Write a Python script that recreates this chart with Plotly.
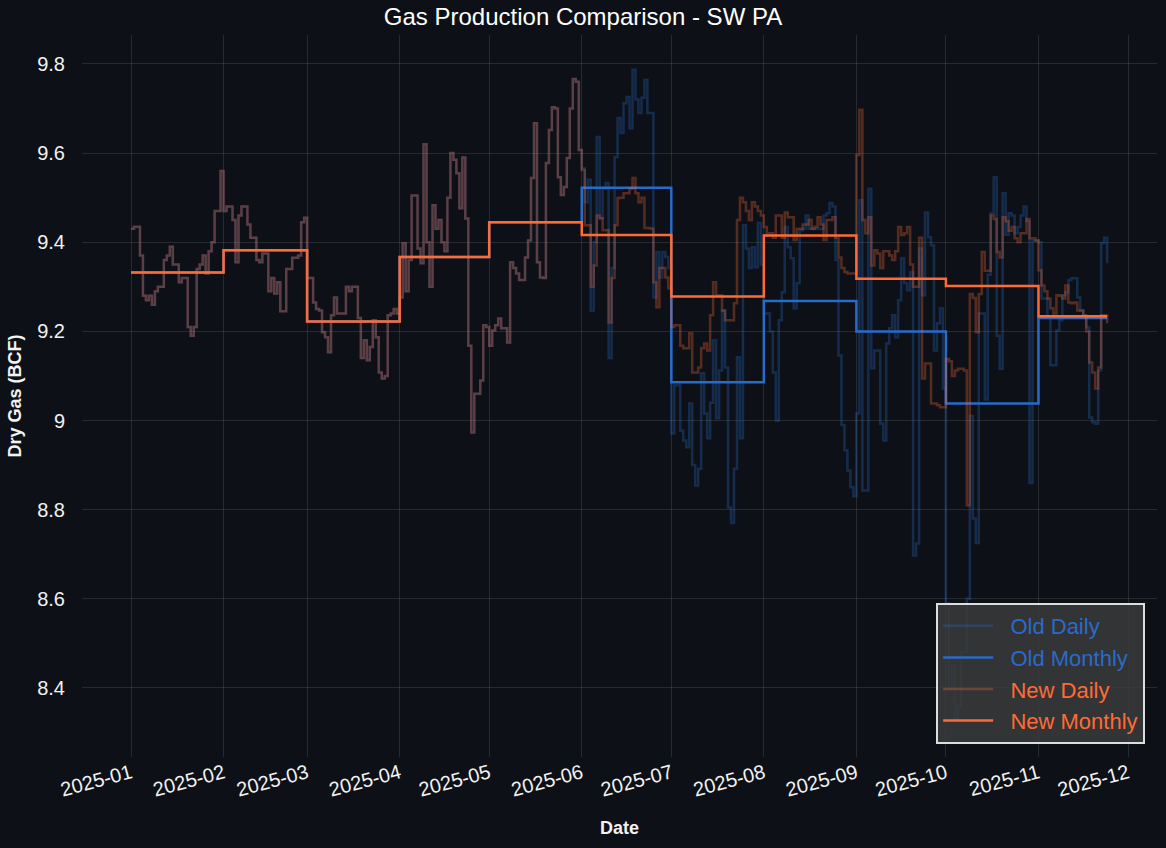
import pandas as pd
import plotly.graph_objects as go

# daily dry gas (BCF); old and new agree Jan-May
jan = [9.43, 9.435, 9.435, 9.37, 9.28, 9.27, 9.28, 9.26, 9.29, 9.30, 9.30, 9.36, 9.37, 9.39, 9.35, 9.35,
       9.31, 9.32, 9.32, 9.21, 9.19, 9.21, 9.34, 9.35, 9.37, 9.33, 9.38, 9.40, 9.47, 9.47, 9.56]
feb = [9.47, 9.48, 9.48, 9.45, 9.355, 9.46, 9.48, 9.48, 9.44, 9.41, 9.41, 9.36, 9.355, 9.375, 9.375, 9.29,
       9.32, 9.285, 9.31, 9.245, 9.245, 9.34, 9.34, 9.365, 9.365, 9.37, 9.445, 9.455]
mar = [9.32, 9.32, 9.265, 9.25, 9.247, 9.198, 9.187, 9.153, 9.236, 9.276, 9.24, 9.24, 9.24, 9.30, 9.29, 9.30,
       9.30, 9.23, 9.14, 9.18, 9.135, 9.165, 9.225, 9.187, 9.108, 9.094, 9.10, 9.236, 9.24, 9.25, 9.24]
apr = [9.276, 9.398, 9.29, 9.36, 9.505, 9.505, 9.386, 9.353, 9.62, 9.40, 9.30, 9.483, 9.43, 9.45, 9.40,
       9.38, 9.50, 9.60, 9.585, 9.555, 9.476, 9.59, 9.453, 9.168, 8.973, 9.06, 9.06, 9.09, 9.214, 9.21]
may = [9.168, 9.202, 9.214, 9.229, 9.207, 9.207, 9.175, 9.355, 9.342, 9.33, 9.315, 9.315, 9.366, 9.404,
       9.544, 9.667, 9.355, 9.321, 9.32, 9.578, 9.652, 9.703, 9.70, 9.546, 9.506, 9.524, 9.589, 9.70, 9.766,
       9.76, 9.607]

new_jun = [9.562, 9.438, 9.438, 9.30, 9.348, 9.46, 9.454, 9.427, 9.427, 9.22, 9.32, 9.438, 9.499, 9.50, 9.51,
           9.51, 9.52, 9.544, 9.51, 9.49, 9.50, 9.432, 9.432, 9.43, 9.31, 9.254, 9.342, 9.342, 9.321, 9.297]
new_jul = [9.21, 9.214, 9.214, 9.168, 9.162, 9.162, 9.196, 9.108, 9.108, 9.119, 9.162, 9.173, 9.157, 9.236,
           9.31, 9.281, 9.281, 9.247, 9.225, 9.225, 9.225, 9.263, 9.45, 9.50, 9.49, 9.47, 9.45, 9.49, 9.48,
           9.47, 9.46]
new_aug = [9.434, 9.42, 9.42, 9.41, 9.46, 9.46, 9.41, 9.467, 9.456, 9.456, 9.405, 9.43, 9.43, 9.44, 9.44,
           9.45, 9.43, 9.435, 9.456, 9.44, 9.405, 9.45, 9.45, 9.456, 9.41, 9.366, 9.342, 9.333, 9.33, 9.33, 9.33]
new_sep = [9.596, 9.697, 9.45, 9.42, 9.456, 9.348, 9.382, 9.375, 9.342, 9.38, 9.38, 9.37, 9.36, 9.38, 9.434,
           9.416, 9.42, 9.434, 9.35, 9.30, 9.30, 9.41, 9.094, 9.128, 9.128, 9.038, 9.038, 9.034, 9.03, 9.03]
new_oct = [9.138, 9.133, 9.10, 9.112, 9.116, 9.116, 9.112, 8.81, 9.284, 9.275, 9.198, 9.284, 9.378, 9.336,
           9.336, 9.46, 9.452, 9.378, 9.366, 9.456, 9.447, 9.426, 9.434, 9.409, 9.40, 9.42, 9.42, 9.452, 9.409,
           9.409, 9.404]
new_nov = [9.337, 9.303, 9.29, 9.274, 9.252, 9.24, 9.281, 9.28, 9.274, 9.303, 9.265, 9.263, 9.265, 9.247,
           9.247, 9.236, 9.20, 9.13, 9.108, 9.072, 9.119, 9.236, 9.236, 9.218]

old_jun = [9.566, 9.49, 9.54, 9.247, 9.40, 9.636, 9.454, 9.52, 9.533, 9.14, 9.342, 9.591, 9.679, 9.645, 9.712,
           9.726, 9.656, 9.787, 9.72, 9.69, 9.724, 9.764, 9.69, 9.69, 9.276, 9.378, 9.321, 9.378, 9.367, 9.342]
old_jul = [8.971, 9.079, 9.079, 8.977, 8.955, 8.94, 9.038, 8.90, 8.854, 8.892, 9.106, 9.016, 8.96, 9.04, 9.18,
           9.005, 9.112, 9.247, 9.119, 8.805, 8.77, 8.892, 9.142, 8.96, 9.438, 9.386, 9.342, 9.389, 9.344,
           9.443, 9.35]
old_aug = [9.24, 9.24, 9.20, 9.108, 9.0, 9.225, 9.288, 9.434, 9.389, 9.364, 9.252, 9.308, 9.427, 9.43, 9.46,
           9.43, 9.43, 9.43, 9.43, 9.43, 9.46, 9.465, 9.488, 9.48, 9.36, 9.146, 8.99, 8.933, 8.888, 8.85, 8.83]
old_sep = [9.016, 9.494, 8.843, 8.843, 9.52, 9.117, 9.157, 9.157, 8.993, 8.955, 9.173, 9.207, 9.236, 9.187,
           9.27, 9.364, 9.308, 9.292, 9.333, 8.697, 8.724, 9.386, 9.281, 9.467, 9.411, 9.393, 9.157, 9.218,
           9.252, 9.072]
old_oct = [8.59, 8.40, 8.45, 8.33, 8.36, 8.48, 8.48, 8.60, 9.01, 8.78, 8.725, 9.24, 9.24, 9.047, 9.327, 9.465,
           9.546, 9.19, 9.116, 9.51, 9.417, 9.465, 9.46, 9.42, 9.434, 9.46, 9.48, 9.447, 8.86, 9.404, 9.404]
old_nov = [9.40, 9.274, 9.274, 9.232, 9.124, 9.124, 9.202, 9.225, 9.281, 9.288, 9.315, 9.319, 9.319, 9.276,
           9.247, 9.232, 9.209, 9.007, 8.996, 8.993, 9.112, 9.398, 9.41, 9.353]

months = ['2025-01', '2025-02', '2025-03', '2025-04', '2025-05', '2025-06',
          '2025-07', '2025-08', '2025-09', '2025-10', '2025-11']
new_monthly = [9.332, 9.382, 9.222, 9.367, 9.445, 9.416, 9.278, 9.415, 9.318, 9.302, 9.234]
old_monthly = [9.332, 9.382, 9.222, 9.367, 9.445, 9.522, 9.086, 9.268, 9.200, 9.038, 9.230]

shared = jan + feb + mar + apr + may
new_daily = shared + new_jun + new_jul + new_aug + new_sep + new_oct + new_nov
old_daily = shared + old_jun + old_jul + old_aug + old_sep + old_oct + old_nov
dates = pd.date_range('2025-01-01', periods=len(new_daily), freq='D')

# monthly means held flat across each month's days
per = dates.to_period('M')
new_m = pd.Series(new_monthly, index=pd.PeriodIndex(months, freq='M'))[per].values
old_m = pd.Series(old_monthly, index=pd.PeriodIndex(months, freq='M'))[per].values

BLUE = '#2A6BC8'
ORANGE = '#FF6B35'
BG = '#0D1117'
GRID = 'rgba(255,255,255,0.11)'


def lbl(text, color):
    return f"<span style='color:{color}'>&nbsp;&nbsp;{text}</span>"


fig = go.Figure()
fig.add_trace(go.Scatter(x=dates, y=old_daily, name=lbl('Old Daily', BLUE), mode='lines',
                         line=dict(color=BLUE, width=2.5, shape='hv'), opacity=0.3, legendgroup='a'))
fig.add_trace(go.Scatter(x=dates, y=old_m, name=lbl('Old Monthly', BLUE), mode='lines',
                         line=dict(color=BLUE, width=2.5, shape='hv'), legendgroup='b'))
fig.add_trace(go.Scatter(x=dates, y=new_daily, name=lbl('New Daily', ORANGE), mode='lines',
                         line=dict(color=ORANGE, width=2.5, shape='hv'), opacity=0.3, legendgroup='c'))
fig.add_trace(go.Scatter(x=dates, y=new_m, name=lbl('New Monthly', ORANGE), mode='lines',
                         line=dict(color=ORANGE, width=2.5, shape='hv'), legendgroup='d'))

fig.update_layout(
    width=1166, height=848,
    paper_bgcolor=BG, plot_bgcolor=BG,
    font=dict(family='Arial, Liberation Sans, sans-serif', color='#F2F2F2', size=20),
    margin=dict(l=82, r=9, t=35, b=91),
    title=dict(text='Gas Production Comparison - SW PA', x=0.5, xref='container', xanchor='center',
               y=0.98, yref='container', yanchor='middle', font=dict(size=24, color='#FFFFFF')),
    legend=dict(x=0.989, y=0.018, xanchor='right', yanchor='bottom', bgcolor='rgba(60,60,60,0.82)',
                bordercolor='#DDDDDD', borderwidth=2, font=dict(size=22), tracegroupgap=0,
                itemwidth=50),
    showlegend=True,
)
fig.update_xaxes(
    range=['2024-12-15 14:00', '2025-12-10 17:00'], tick0='2025-01-01', dtick='M1', tickformat='%Y-%m',
    tickangle=-15, showgrid=True, gridcolor=GRID, gridwidth=1, zeroline=False,
    showline=False, ticks='', tickfont=dict(size=20),
    title=dict(text='<b>Date</b>', font=dict(size=18), standoff=21),
)
fig.update_yaxes(
    range=[8.245, 9.865], dtick=0.2, tick0=8.4, showgrid=True, gridcolor=GRID,
    gridwidth=1, zeroline=False, showline=False, ticks='', tickfont=dict(size=20), ticklabelstandoff=16,
    title=dict(text='<b>Dry Gas (BCF)</b>', font=dict(size=18), standoff=10),
)

fig.write_html('out.html', config={'displayModeBar': False},
               post_script="document.body.style.margin='0';document.body.style.background='#0D1117';")
